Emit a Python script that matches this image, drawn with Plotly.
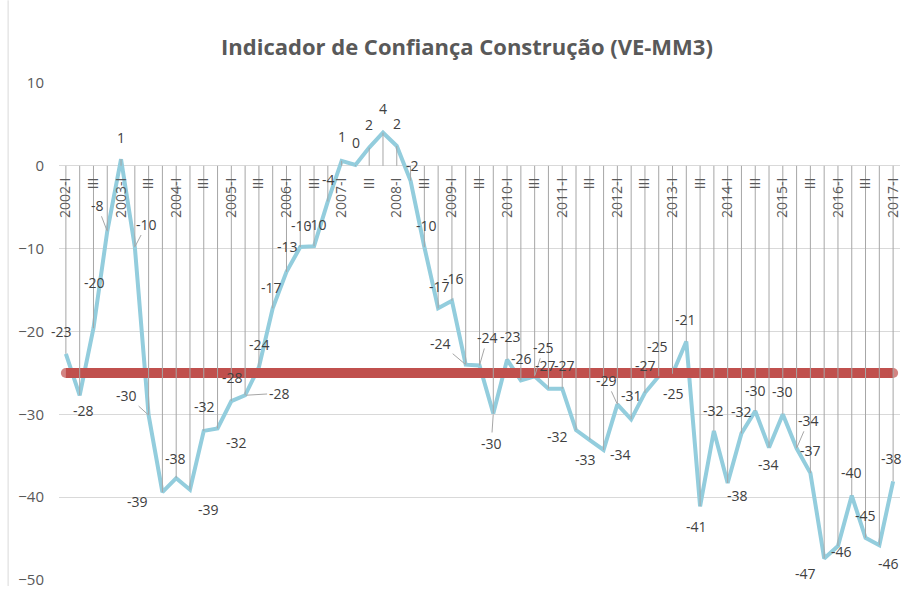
import math
import plotly.graph_objects as go

# ---------------- data ----------------
years = list(range(2002, 2018))
quarters = ["I", "II", "III", "IV"]
categories = [(f"{y}-I" if q == "I" else q) for y in years for q in quarters][:61]

values = [
    -22.7, -27.7, -19.6, -7.9,          # 2002
    0.8, -9.8, -30.1, -39.4,            # 2003
    -37.7, -39.1, -32.0, -31.7,         # 2004
    -28.4, -27.7, -24.3, -17.2,         # 2005
    -12.8, -9.8, -9.7, -4.3,            # 2006
    0.6, 0.1, 2.2, 4.0,                 # 2007
    2.4, -1.8, -9.8, -17.2,             # 2008
    -16.3, -24.0, -24.1, -29.9,         # 2009
    -23.4, -25.9, -25.4, -26.9,         # 2010
    -26.9, -31.9, -33.1, -34.3,         # 2011
    -28.8, -30.6, -27.4, -25.4,         # 2012
    -25.1, -21.2, -41.1, -32.0,         # 2013
    -38.3, -32.3, -29.6, -34.0,         # 2014
    -30.0, -34.1, -37.1, -47.4,         # 2015
    -45.9, -39.8, -44.9, -45.8,         # 2016
    -38.1,                              # 2017
]
average_level = -25.0

# label offsets (px from point: dx right, dy down) and leader-line flags
label_offsets = [
    (-4, -22), (4, 15), (1, -46), (-10, -26),
    (0, -22), (12, -23), (-22, -20), (-25, 9),
    (-1, -20), (19, 20), (1, -24), (19, 14),
    (1, -24), (34, -2), (1, -23), (-1, -21),
    (1, -25), (1, -22), (2, -22), (1, -22),
    (0, -24), (1, -23), (0, -23), (0, -24),
    (0, -22), (2, -15), (2, -22), (1, -22),
    (2, -22), (-25, -21), (8, -28), (-2, 30),
    (3, -23), (1, -22), (9, -29), (-3, -23),
    (2, -23), (-19, 6), (-4, 19), (17, 5),
    (-11, -24), (0, -24), (1, -27), (-1, -30),
    (1, 20), (-1, -22), (-4, 20), (0, -20),
    (10, 12), (0, -22), (0, -21), (-1, 17),
    (0, -23), (12, -28), (0, -23), (-19, 15),
    (4, 5), (0, -23), (0, -22), (9, 18),
    (-2, -23),
]
leaders = {3, 5, 6, 13, 29, 30, 31, 34, 40, 53}

x_idx = list(range(len(values)))
n = len(values)

fig = go.Figure()

# main series
fig.add_trace(go.Scatter(
    x=x_idx, y=values, mode="lines",
    line=dict(color="#93CDDD", width=4),
    hoverinfo="skip", showlegend=False,
))
# average line (round caps imitated by end markers)
fig.add_trace(go.Scatter(
    x=x_idx, y=[average_level] * n, mode="lines+markers",
    line=dict(color="#C0504D", width=10),
    marker=dict(color="#C0504D", size=[10] + [0] * (n - 2) + [10], line=dict(width=0)),
    hoverinfo="skip", showlegend=False,
))
# drop lines from 0 to each point
dx_, dy_ = [], []
for i, v in zip(x_idx, values):
    dx_ += [i, i, None]
    dy_ += [0, v, None]
fig.add_trace(go.Scatter(
    x=dx_, y=dy_, mode="lines",
    line=dict(color="#A6A6A6", width=1),
    hoverinfo="skip", showlegend=False,
))

LABEL_FONT = dict(family="Open Sans", size=14, color="#404040")
annotations = []
for i, v in zip(x_idx, values):
    txt = str(int(math.floor(v + 0.5)))
    ox, oy = label_offsets[i]
    if i in leaders:
        annotations.append(dict(
            x=i, y=v, xref="x", yref="y", text=txt,
            showarrow=True, arrowhead=0, arrowwidth=1, arrowcolor="#A6A6A6",
            ax=ox, ay=oy, standoff=1, font=LABEL_FONT,
        ))
    else:
        annotations.append(dict(
            x=i, y=v, xref="x", yref="y", text=txt, showarrow=False,
            xshift=ox, yshift=-oy, font=LABEL_FONT,
        ))

annotations.append(dict(
    text="<b>Indicador de Confiança Construção (VE-MM3)</b>",
    xref="paper", yref="paper", x=(468 - 59) / 843, y=1 + 37 / 499,
    xanchor="center", yanchor="middle", showarrow=False,
    font=dict(family="Open Sans", size=22, color="#595959"),
))

tickvals = x_idx[::2]
ticktext = [categories[i] for i in tickvals]

fig.update_layout(
    width=909, height=596,
    margin=dict(l=59, r=7, t=83, b=14),
    paper_bgcolor="white", plot_bgcolor="white",
    annotations=annotations,
    shapes=[dict(type="line", xref="paper", yref="paper",
                 x0=-51 / 843, x1=-51 / 843, y0=-6 / 499, y1=1 + 83 / 499,
                 line=dict(color="#D9D9D9", width=1))],
    xaxis=dict(
        range=[-0.5, 60.5], showgrid=False, zeroline=False, showline=False,
        tickmode="array", tickvals=tickvals, ticktext=ticktext,
        tickangle=-90, anchor="free", position=50 / 60,
        ticks="", ticklabelstandoff=8,
        tickfont=dict(family="Open Sans", size=14, color="#595959"),
    ),
    yaxis=dict(
        range=[-50, 10], dtick=10, showgrid=True, gridcolor="#D9D9D9",
        gridwidth=1, zeroline=False, showline=False, ticks="",
        ticklabelstandoff=14,
        tickfont=dict(family="Open Sans", size=15, color="#595959"),
    ),
)

fig.write_html("out.html", config={"displayModeBar": False},
               post_script="document.body.style.margin='0px';")
